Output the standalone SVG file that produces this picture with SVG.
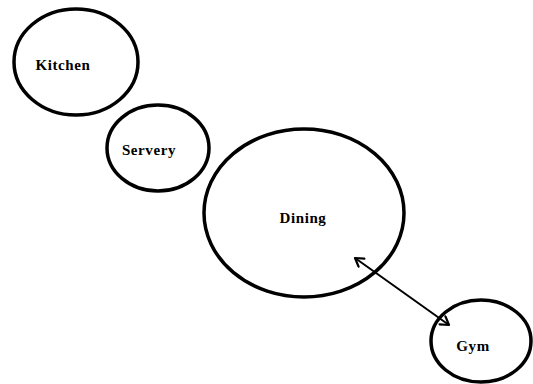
<svg xmlns="http://www.w3.org/2000/svg" width="533" height="384" viewBox="0 0 533 384">
  <style>
    .room { fill: none; stroke: #000; stroke-width: 3.5; }
    .label { font-family: "Liberation Serif", "DejaVu Serif", serif; font-size: 15px; font-weight: bold; fill: #000; text-anchor: middle; letter-spacing: 0.6px; }
    .link { stroke: #000; stroke-width: 2; fill: none; }
  </style>
  <defs>
    <marker id="open-head" viewBox="0 0 12 12" refX="10" refY="6" markerWidth="12" markerHeight="12" markerUnits="userSpaceOnUse" orient="auto-start-reverse">
      <path d="M2,1 L10,6 L2,11" fill="none" stroke="#000" stroke-width="2.2" stroke-linecap="round" stroke-linejoin="round"/>
    </marker>
  </defs>
  <rect width="533" height="384" fill="#fff"/>

  <g id="kitchen">
    <ellipse class="room" cx="76" cy="62" rx="62" ry="53"/>
    <text class="label" x="63" y="70">Kitchen</text>
  </g>

  <g id="servery">
    <ellipse class="room" cx="158" cy="148" rx="51" ry="43"/>
    <text class="label" x="149" y="155">Servery</text>
  </g>

  <g id="dining">
    <ellipse class="room" cx="304" cy="213" rx="100" ry="84"/>
    <text class="label" x="303" y="223">Dining</text>
  </g>

  <g id="gym">
    <ellipse class="room" cx="481" cy="341" rx="50" ry="41"/>
    <text class="label" x="473" y="351">Gym</text>
  </g>

  <g id="connectors">
    <line class="link" x1="355" y1="258" x2="449" y2="325" marker-start="url(#open-head)" marker-end="url(#open-head)"/>
  </g>
</svg>
